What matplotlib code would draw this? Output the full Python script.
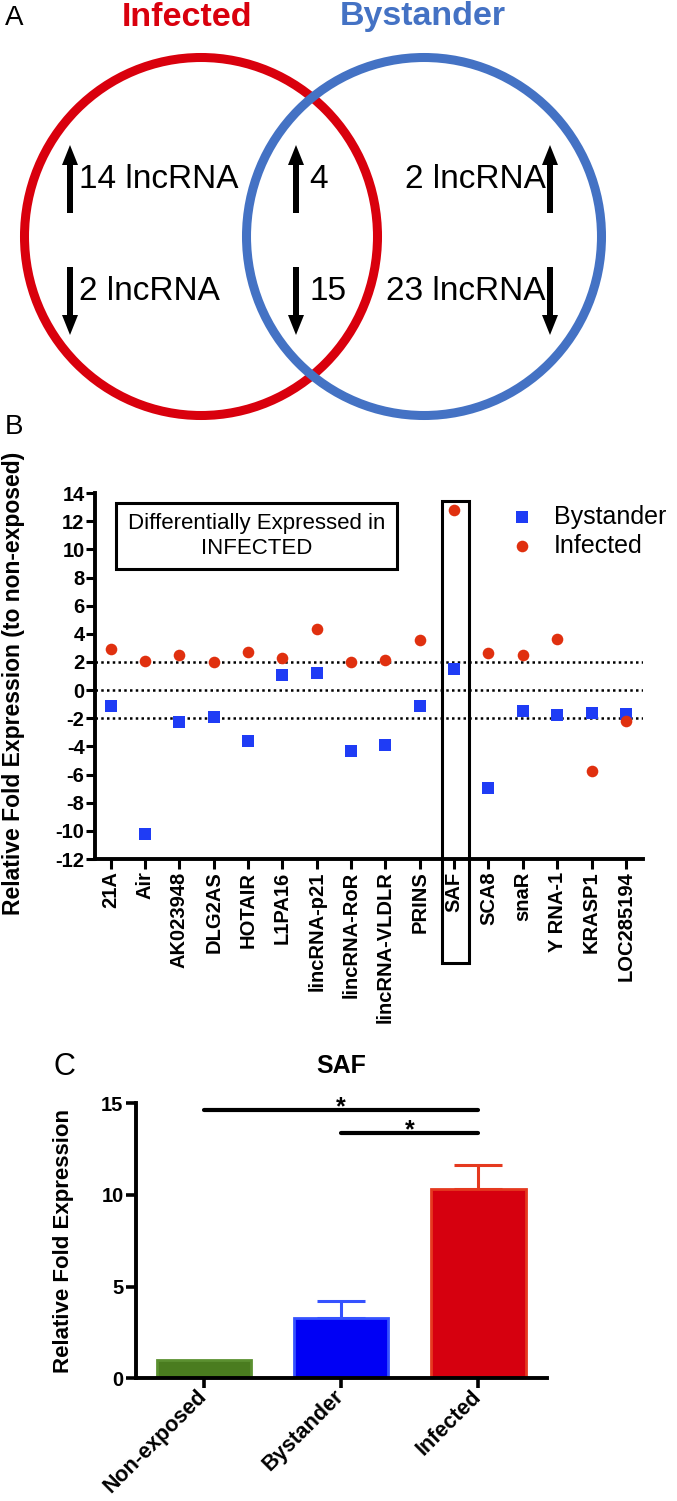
import matplotlib.pyplot as plt
from matplotlib.patches import Ellipse, Rectangle
import numpy as np

plt.rcParams['font.family'] = ['Liberation Sans', 'DejaVu Sans']
plt.rcParams['axes.unicode_minus'] = False

# panel A: Venn counts
venn_names = ['Infected', 'Bystander']
venn_colors = ['#d9000d', '#4472c4']
up_counts = [14, 4, 2]      # infected only, both, bystander only
down_counts = [2, 15, 23]

# panel B: lncRNA fold expression
genes = ['21A', 'Air', 'AK023948', 'DLG2AS', 'HOTAIR', 'L1PA16', 'lincRNA-p21',
         'lincRNA-RoR', 'lincRNA-VLDLR', 'PRINS', 'SAF', 'SCA8', 'snaR',
         'Y RNA-1', 'KRASP1', 'LOC285194']
bystander = [-1.1, -10.2, -2.27, -1.94, -3.58, 1.04, 1.23, -4.36, -3.93, -1.14,
             1.47, -6.94, -1.49, -1.75, -1.59, -1.71]
infected = [2.89, 2.06, 2.49, 2.01, 2.68, 2.25, 4.36, 2.01, 2.11, 3.55,
            12.79, 2.65, 2.49, 3.62, -5.76, -2.2]

# panel C: SAF
groups = ['Non-exposed', 'Bystander', 'Infected']
saf_mean = [1.02, 3.27, 10.31]
saf_err = [0.0, 0.95, 1.33]
bar_fill = ['#4a7c1f', '#0000f5', '#d6000f']
bar_edge = ['#5b9030', '#3552ff', '#e5391f']

fig = plt.figure(figsize=(6.77, 15.01), dpi=100)

# ---------- overlay in pixel coords (panel A + letters)
ov = fig.add_axes([0, 0, 1, 1])
ov.set_xlim(0, 677)
ov.set_ylim(1501, 0)
ov.axis('off')

ov.add_patch(Ellipse((201, 236.5), 353, 358, fill=False, lw=6.5, ec=venn_colors[0]))
ov.add_patch(Ellipse((424, 236.5), 355, 358, fill=False, lw=6.5, ec=venn_colors[1]))
ov.text(187, 17, venn_names[0], color=venn_colors[0], fontsize=24.5, fontweight='bold',
        ha='center', va='center')
ov.text(423, 17, venn_names[1], color=venn_colors[1], fontsize=24.5, fontweight='bold',
        ha='center', va='center')

def arrow(x, up):
    y0, y1 = (213, 145) if up else (267, 335)
    ov.arrow(x, y0, 0, y1 - y0, width=6, head_width=16, head_length=20,
             length_includes_head=True, color='black', lw=0)

for xa in (70, 296, 550):
    arrow(xa, True)
    arrow(xa, False)
kw = dict(fontsize=24, va='center')
ov.text(79, 179, f'{up_counts[0]} lncRNA', ha='left', **kw)
ov.text(79, 291, f'{down_counts[0]} lncRNA', ha='left', **kw)
ov.text(309, 179, f'{up_counts[1]}', ha='left', **kw)
ov.text(309, 291, f'{down_counts[1]}', ha='left', **kw)
ov.text(546, 179, f'{up_counts[2]} lncRNA', ha='right', **kw)
ov.text(546, 291, f'{down_counts[2]} lncRNA', ha='right', **kw)

for lab, x, y, fs in [('A', 14, 18, 20), ('B', 14, 427, 20), ('C', 64, 1067, 22)]:
    ov.text(x, y, lab, fontsize=fs, ha='center', va='center')

# ---------- panel B
ax = fig.add_axes([0.1403, 0.4277, 0.8095, 0.2438])
x = np.arange(len(genes))
for yv in (2, 0, -2):
    ax.axhline(yv, color='black', lw=1.8, ls=(0, (1, 1.3)), zorder=1)
ax.scatter(x, bystander, marker='s', s=72, color='#1f3cf5', lw=0, zorder=3, label='Bystander')
ax.scatter(x, infected, marker='o', s=70, color='#e0300f', lw=0, zorder=3, label='Infected')
ax.set_xlim(-0.46, 15.5)
ax.set_ylim(-12, 14)
ax.set_yticks(np.arange(-12, 15, 2))
ax.set_xticks(x)
ax.set_xticklabels(genes, rotation=90, fontsize=14.5, fontweight='bold')
for t in ax.get_yticklabels():
    t.set_fontweight('bold'); t.set_fontsize(14.5)
ax.tick_params(axis='y', width=2.2, length=6.5, pad=1)
ax.tick_params(axis='x', width=2.2, length=7, pad=2)
for s in ['top', 'right']:
    ax.spines[s].set_visible(False)
for s in ['left', 'bottom']:
    ax.spines[s].set_linewidth(2.8)
ax.set_ylabel('Relative Fold Expression (to non-exposed)', fontsize=16.5, fontweight='bold')
ax.yaxis.set_label_coords(-0.128, 0.48)
ax.add_patch(Rectangle((0.15, 8.6), 8.19, 4.71, fill=False, lw=2.2, ec='black', zorder=4))
ax.text(4.26, 10.95, 'Differentially Expressed in\nINFECTED', ha='center', va='center',
        fontsize=16, linespacing=1.2)
ax.add_patch(Rectangle((9.64, -19.4), 0.78, 32.85, fill=False, lw=2.2, ec='black',
                       clip_on=False, zorder=4))
ax.legend(loc='upper left', bbox_to_anchor=(0.752, 0.6636), bbox_transform=fig.transFigure,
          frameon=False, fontsize=18, handletextpad=0.8, labelspacing=0.2,
          borderpad=0, borderaxespad=0, handlelength=1.0, scatterpoints=1)

# ---------- panel C
bx = fig.add_axes([0.2009, 0.0818, 0.607, 0.1832])
xc = np.arange(len(groups))
bx.bar(xc, saf_mean, width=0.69, color=bar_fill, edgecolor=bar_edge, lw=2, zorder=2)
for i in range(len(groups)):
    if saf_err[i] > 0:
        bx.errorbar(xc[i], saf_mean[i], yerr=[[0], [saf_err[i]]], fmt='none',
                    ecolor=bar_edge[i], elinewidth=2.2, capsize=17, capthick=2.2, zorder=1)
bx.set_xlim(-0.495, 2.5)
bx.set_ylim(0, 15)
bx.set_yticks([0, 5, 10, 15])
bx.set_xticks(xc)
bx.set_xticklabels(groups, rotation=45, ha='right', va='center', rotation_mode='anchor',
                   fontsize=15.5, fontweight='bold')
for t in bx.get_yticklabels():
    t.set_fontweight('bold'); t.set_fontsize(14.5)
bx.tick_params(axis='y', width=2.6, length=7, pad=2)
bx.tick_params(axis='x', width=2.6, length=7, pad=4)
for s in ['top', 'right']:
    bx.spines[s].set_visible(False)
for s in ['left', 'bottom']:
    bx.spines[s].set_linewidth(2.8)
bx.set_ylabel('Relative Fold Expression', fontsize=16, fontweight='bold')
bx.yaxis.set_label_coords(-0.15, 0.5)
bx.set_title('SAF', fontsize=18, fontweight='bold', pad=22)
bx.plot([0, 2], [14.64, 14.64], color='black', lw=3, solid_capstyle='round', clip_on=False)
bx.plot([1, 2], [13.4, 13.4], color='black', lw=3, solid_capstyle='round', clip_on=False)
for xs, ys in [(1, 14.64), (1.5, 13.4)]:
    bx.annotate('*', xy=(xs, ys), xytext=(0, -3.2), textcoords='offset points',
                ha='center', va='baseline', fontsize=18, fontweight='bold')

fig.savefig('out.png', dpi=100)
